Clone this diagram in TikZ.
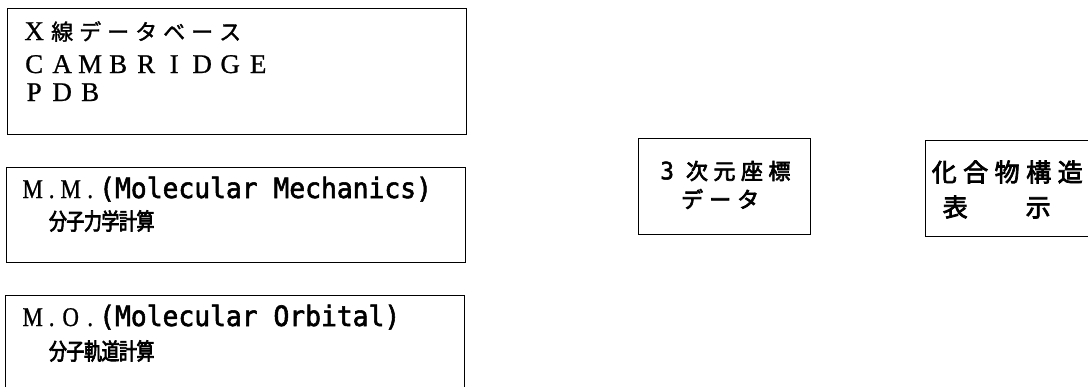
\documentclass[tikz,border=0pt]{standalone}
\usepackage{fontspec}
\newfontfamily\jp[FakeBold=1.5]{Noto Sans CJK JP}
\newfontfamily\jpb[FakeBold=3]{Noto Sans CJK JP}
\newfontfamily\jpn[FakeBold=3,FakeStretch=0.78]{Noto Sans CJK JP}
\newfontfamily\ser[FakeBold=0.8]{Liberation Serif}
\newfontfamily\sern[FakeStretch=0.85,FakeBold=0.8]{Liberation Serif}
\newfontfamily\mono[FakeStretch=0.94,FakeBold=2]{DejaVu Sans Mono}
\makeatletter
\newcommand\spc[2]{\@tfor\ch:=#2\do{\makebox[#1][c]{\ch}}}
\makeatother
\newcommand\cell[2]{\makebox[#1][c]{#2}}
\begin{document}
\begin{tikzpicture}[x=1pt,y=-1pt,
  box/.style={draw, line width=1.4pt, inner sep=0pt, anchor=north west},
  txt/.style={inner sep=0pt, anchor=base west},
  jtxt/.style={inner sep=0pt, anchor=west}]
\useasboundingbox (0,0) rectangle (1088,386);
\fill[white] (0,0) rectangle (1088,386);
\clip (0,0) rectangle (1088,386);
% boxes
\node[box, minimum width=459pt, minimum height=126pt] (db) at (7,8) {};
\node[box, minimum width=459pt, minimum height=95pt] (mm) at (6,167) {};
\node[box, minimum width=459pt, minimum height=110pt] (mo) at (5,295) {};
\node[box, minimum width=172pt, minimum height=96pt] (xyz) at (638,138) {};
\node[box, minimum width=180pt, minimum height=96pt] (disp) at (925,140) {};
% box 1 text
\node[txt] (db1) at (20,40) {{\ser\fontsize{27}{27}\selectfont\cell{28pt}{X}}{\jp\fontsize{22}{22}\selectfont\spc{28pt}{線データベース}}};
\node[txt] (db2) at (20,73) {\ser\fontsize{27}{27}\selectfont\spc{28pt}{CAMBRIDGE}};
\node[txt] (db3) at (20,101) {\ser\fontsize{27}{27}\selectfont\spc{28pt}{PDB}};
% box 2 text
\node[txt] (mm1) at (22,198) {{\sern\fontsize{27}{27}\selectfont\cell{21pt}{M}\cell{17pt}{.}\cell{21pt}{M}\cell{18pt}{.}}{\mono\fontsize{28}{28}\selectfont(Molecular Mechanics)}};
\node[jtxt] (mm2) at (49,221) {\jpn\fontsize{23}{23}\selectfont\spc{17.5pt}{分子力学計算}};
% box 3 text
\node[txt] (mo1) at (22,326) {{\sern\fontsize{27}{27}\selectfont\cell{21pt}{M}\cell{17pt}{.}\cell{21pt}{O}\cell{18pt}{.}}{\mono\fontsize{28}{28}\selectfont(Molecular Orbital)}};
\node[jtxt] (mo2) at (49,351) {\jpn\fontsize{23}{23}\selectfont\spc{17.5pt}{分子軌道計算}};
% box 4 text
\node[jtxt] (xyz1) at (657,171) {{\mono\fontsize{24}{24}\selectfont\cell{20pt}{3}}\hspace{6pt}{\jpb\fontsize{22}{22}\selectfont\spc{27.5pt}{次元座標}}};
\node[jtxt] (xyz2) at (678,199) {\jpb\fontsize{22}{22}\selectfont\spc{28pt}{データ}};
% box 5 text
\node[jtxt] (disp1) at (928.25,172) {\jpb\fontsize{25}{25}\selectfont\spc{31.5pt}{化合物構造}};
\node[jtxt] (disp2) at (934.25,207) {\jpb\fontsize{25}{25}\selectfont\spc{41.5pt}{表　示}};
\end{tikzpicture}
\end{document}
